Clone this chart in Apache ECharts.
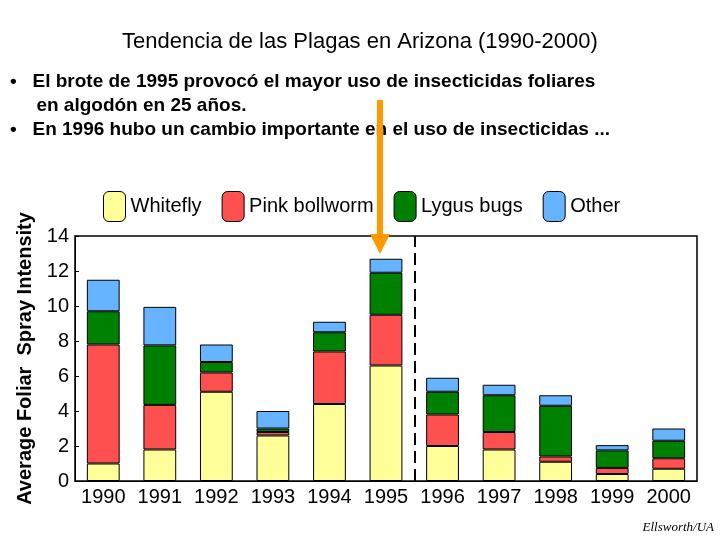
<!DOCTYPE html><html><head><meta charset="utf-8"><script src="https://cdn.jsdelivr.net/npm/echarts@6/dist/echarts.min.js"></script></head><body style="margin:0"><div id="c" style="width:720px;height:540px"></div><script>
const years=['1990','1991','1992','1993','1994','1995','1996','1997','1998','1999','2000'];
const whitefly=[1.0,1.8,5.1,2.6,4.4,6.6,2.0,1.8,1.1,0.4,0.7];
const pink=[6.8,2.55,1.1,0.2,3.0,2.9,1.8,1.0,0.3,0.35,0.6];
const lygus=[1.9,3.4,0.6,0.2,1.1,2.4,1.3,2.1,2.9,1.0,1.0];
const other=[1.8,2.2,1.0,1.0,0.6,0.8,0.8,0.6,0.6,0.3,0.7];
const yTicks=[0,2,4,6,8,10,12,14];
const names=['Whitefly','Pink bollworm','Lygus bugs','Other'];
const colors=['#ffff99','#ff5050','#008000','#66b3ff'];
const F='Liberation Sans, Arial, sans-serif';
const chart=echarts.init(document.getElementById('c'));
const sers=[whitefly,pink,lygus,other].map((d,i)=>({name:names[i],type:'bar',stack:'a',data:d,barWidth:'58%',itemStyle:{color:colors[i],borderColor:'#000',borderWidth:1}}));
sers.push({type:'scatter',xAxisIndex:1,data:[],silent:true,markLine:{symbol:'none',silent:true,label:{show:false},lineStyle:{color:'#000',type:[12,6],width:2},data:[{xAxis:6}]}});
chart.setOption({
animation:false,
title:{text:'Tendencia de las Plagas en Arizona (1990-2000)',left:'center',top:26,textStyle:{fontFamily:F,fontSize:22,fontWeight:500,color:'#000'}},
legend:{top:186,left:98,itemWidth:22,itemHeight:30,itemGap:20,textStyle:{fontFamily:F,fontSize:20,color:'#000'},data:names.map((n,i)=>({name:n,itemStyle:{color:colors[i],borderColor:'#000',borderWidth:1}}))},
grid:{left:75,right:23,top:236,bottom:59},
xAxis:[{type:'category',data:years,axisTick:{show:false},axisLine:{lineStyle:{color:'#000'}},axisLabel:{interval:0,fontFamily:F,fontSize:20,color:'#000',margin:6}},
{type:'value',min:0,max:11,show:false}],
yAxis:{type:'value',min:0,max:14,interval:2,name:'Average Foliar  Spray Intensity',nameLocation:'middle',nameGap:40,nameTextStyle:{fontFamily:F,fontSize:20,fontWeight:'bold',color:'#000'},axisLine:{show:true,lineStyle:{color:'#000'}},axisTick:{show:true,inside:true,length:4},splitLine:{show:false},axisLabel:{fontFamily:F,fontSize:20,color:'#000',margin:6}},
graphic:[
{type:'rect',shape:{x:75,y:236,width:622,height:245},style:{fill:'none',stroke:'#000',lineWidth:1.5}},
{type:'text',left:10,top:70,style:{text:'•   El brote de 1995 provocó el mayor uso de insecticidas foliares\n     en algodón en 25 años.\n•   En 1996 hubo un cambio importante en el uso de insecticidas ...',font:'bold 19px '+F,fill:'#000',lineHeight:24}},
{type:'line',shape:{x1:380,y1:100,x2:380,y2:236},style:{stroke:'#ff9900',lineWidth:6}},
{type:'polygon',shape:{points:[[370,234],[390,234],[380,254]]},style:{fill:'#ff9900'}},
{type:'text',right:6,bottom:6,style:{text:'Ellsworth/UA',font:'italic 13px Liberation Serif, serif',fill:'#000'}}
],
series:sers});
</script></body></html>
